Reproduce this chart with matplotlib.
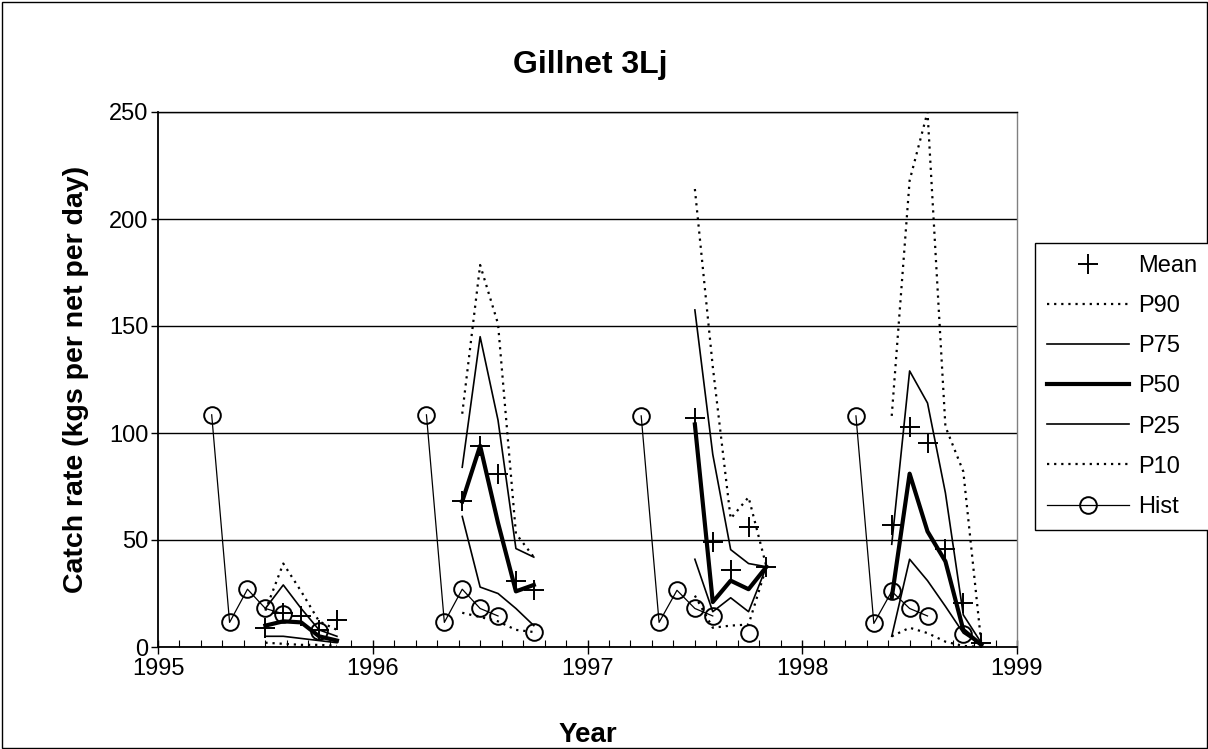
import numpy as np
import matplotlib
matplotlib.use("Agg")
import matplotlib.pyplot as plt
from matplotlib.lines import Line2D
from matplotlib.patches import Rectangle

plt.rcParams["font.family"] = ["Liberation Sans", "DejaVu Sans"]

# Fishing seasons and the month (fraction of year * 12) of each observation
season_years = [1995, 1996, 1997, 1998]
forecast_months = [[6, 7, 8, 9, 10],
                   [5, 6, 7, 8, 9],
                   [6, 7, 8, 9, 10],
                   [5, 6, 7, 8, 9, 10]]
hist_months = [3, 4, 5, 6, 7, 8, 9]

# Catch rate (kgs per net per day)
mean_rate = [[9, 16, 14.5, 8, 12.5],
             [68, 94, 81, 31, 26.5],
             [107, 49, 36, 56, 37.5],
             [57, 103, 95.5, 46, 20.5, 1.7]]
p90 = [[17, 39, 26, 12, 8],
       [109, 178.5, 151, 53, 42],
       [214, 131, 60, 70, 37.5],
       [108, 218, 250, 103, 82, 2]]
p75 = [[18, 29, 18, 8, 5],
       [84, 145, 106, 46, 42],
       [157.5, 90, 45.5, 39, 37.5],
       [48, 129, 114, 72, 15, 2]]
p50 = [[10, 12, 11.5, 5, 3],
       [68, 94, 58, 26, 29],
       [104, 21, 31, 27, 37.5],
       [23, 81, 54, 40, 8, 1]]
p25 = [[5, 5, 4, 3, 2],
       [61, 28, 25, 18, 10],
       [41, 16.5, 23, 16.5, 37.5],
       [5, 41, 31, 19, 6.5, 1]]
p10 = [[2, 1.5, 1, 1, 0.5],
       [16, 14, 12, 8, 7],
       [24, 9, 10, 10.5, 37.5],
       [5, 9, 6.5, 2.5, 0.5, 0]]
nan = np.nan
hist = [[108.5, 11.5, 27, 18, 15.5, nan, 7.5],
        [108.5, 11.5, 27, 18, 14.5, nan, 7],
        [108, 11.5, 26.5, 18, 14.5, nan, 6.5],
        [108, 11, 26, 18, 14.5, nan, 6]]

y_ticks = [0, 50, 100, 150, 200, 250]
x_ticks = [1995, 1996, 1997, 1998, 1999]

W, H = 1208, 749
fig = plt.figure(figsize=(W / 100, H / 100), dpi=100)
ax = fig.add_axes([158 / W, 1 - 647 / H, (1017 - 158) / W, (647 - 112) / H])

dot = (0, (1, 2.2))
styles = {
    "P90": dict(color="k", lw=1.6, ls=dot, dash_capstyle="butt"),
    "P75": dict(color="k", lw=1.2, ls="-"),
    "P50": dict(color="k", lw=3.0, ls="-"),
    "P25": dict(color="k", lw=1.2, ls="-"),
    "P10": dict(color="k", lw=1.6, ls=dot, dash_capstyle="butt"),
}
series = {"P90": p90, "P75": p75, "P50": p50, "P25": p25, "P10": p10}

for i, yr in enumerate(season_years):
    xf = [yr + m / 12 for m in forecast_months[i]]
    for name, vals in series.items():
        ax.plot(xf, vals[i], zorder=3, **styles[name])
    ax.plot(xf, mean_rate[i], ls="none", marker="+", ms=14, mew=1.4,
            color="k", zorder=5)
    xh = [yr + m / 12 for m in hist_months]
    ax.plot(xh, hist[i], color="k", lw=0.9, marker="o", ms=12,
            mfc="none", mec="k", mew=1.4, zorder=4)

ax.set_xlim(1995, 1999)
ax.set_ylim(0, 250)
ax.set_xticks(x_ticks)
ax.set_xticks(np.arange(1995, 1999.001, 0.1), minor=True)
ax.set_yticks(y_ticks)
ax.yaxis.grid(True, color="k", lw=1.0)
ax.set_axisbelow(True)
ax.tick_params(axis="x", which="major", direction="inout", length=10,
               width=1.0, labelsize=17, pad=3)
ax.tick_params(axis="x", which="minor", direction="in", length=5, width=0.8)
ax.tick_params(axis="y", direction="out", length=5, width=1.0,
               labelsize=17, pad=2)
for s in ("left", "bottom"):
    ax.spines[s].set_color("k")
    ax.spines[s].set_linewidth(1.3)
ax.spines["right"].set_color("#808080")
ax.spines["right"].set_linewidth(1.0)
ax.spines["top"].set_color("k")
ax.spines["top"].set_linewidth(1.0)

ax.set_xlabel("Year", fontsize=20, fontweight="bold", labelpad=30)
ax.set_ylabel("Catch rate (kgs per net per day)", fontsize=20.5,
              fontweight="bold", labelpad=14)
fig.text(590 / W, 1 - 65 / H, "Gillnet 3Lj", ha="center", va="center",
         fontsize=23, fontweight="bold")

handles = [
    Line2D([], [], ls="none", marker="+", ms=14, mew=1.4, color="k"),
    Line2D([], [], **styles["P90"]),
    Line2D([], [], **styles["P75"]),
    Line2D([], [], **styles["P50"]),
    Line2D([], [], **styles["P25"]),
    Line2D([], [], **styles["P10"]),
    Line2D([], [], color="k", lw=0.9, marker="o", ms=12, mfc="none",
           mec="k", mew=1.4),
]
labels = ["Mean", "P90", "P75", "P50", "P25", "P10", "Hist"]
leg = fig.legend(handles, labels, loc="upper left",
                 bbox_to_anchor=(1035 / W, 1 - 243 / H),
                 bbox_transform=fig.transFigure, fontsize=17,
                 frameon=True, fancybox=False, framealpha=1,
                 edgecolor="k", handlelength=3.5, handletextpad=0.35,
                 labelspacing=0.77, borderpad=0.5, borderaxespad=0)
leg.get_frame().set_linewidth(1.0)

fig.patches.append(Rectangle((1.5 / W, 1.5 / H), 1 - 3 / W, 1 - 3 / H,
                             transform=fig.transFigure, fill=False,
                             edgecolor="k", lw=1.0))

fig.savefig("out.png", dpi=100)
